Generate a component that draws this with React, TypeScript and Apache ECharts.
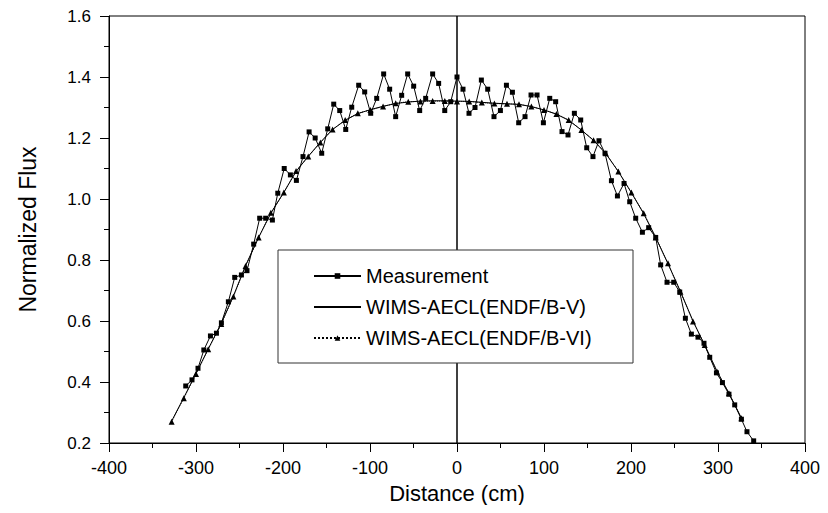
import React, { useEffect, useRef } from "react";
import * as echarts from "echarts";

// Measurement (distance in cm, normalized flux)
const measX = [
  -311.8, -304.6, -297.7, -291.0, -283.4, -276.5, -270.8, -262.8, -255.5, -247.8,
  -241.4, -233.7, -226.8, -219.9, -212.2, -206.0, -198.6, -191.5, -184.6, -177.0,
  -170.0, -163.0, -155.5, -148.6, -141.7, -134.8, -127.9, -121.0, -113.0, -106.1,
  -99.2, -92.3, -84.3, -77.4, -70.5, -63.6, -56.7, -49.8, -42.9, -36.0,
  -28.0, -21.1, -14.1, -7.2, 0.0, 6.9, 13.8, 20.7, 28.0, 35.3,
  42.5, 49.9, 56.8, 63.7, 70.9, 78.2, 85.1, 92.0, 99.3, 106.6,
  113.4, 120.7, 127.6, 134.9, 142.2, 149.1, 156.3, 163.2, 170.1, 177.5,
  184.4, 192.0, 198.5, 205.4, 213.1, 220.3, 228.4, 234.1, 241.4, 249.1,
  256.0, 262.5, 269.4, 277.0, 283.9, 290.5, 298.2, 305.1, 312.6, 319.2,
  326.9, 333.3, 341.0,
];
const measY = [
  0.387, 0.407, 0.445, 0.505, 0.551, 0.56, 0.594, 0.663, 0.743, 0.751,
  0.765, 0.852, 0.937, 0.937, 0.931, 1.019, 1.1, 1.079, 1.061, 1.139,
  1.22, 1.2, 1.15, 1.23, 1.311, 1.29, 1.228, 1.301, 1.373, 1.351,
  1.281, 1.33, 1.41, 1.36, 1.27, 1.34, 1.41, 1.37, 1.29, 1.33,
  1.41, 1.379, 1.29, 1.319, 1.4, 1.36, 1.281, 1.3, 1.39, 1.36,
  1.27, 1.29, 1.373, 1.35, 1.25, 1.27, 1.341, 1.341, 1.25, 1.33,
  1.319, 1.221, 1.21, 1.281, 1.259, 1.168, 1.139, 1.191, 1.15, 1.06,
  1.01, 1.051, 0.991, 0.937, 0.891, 0.906, 0.874, 0.784, 0.727, 0.727,
  0.695, 0.609, 0.557, 0.547, 0.527, 0.481, 0.43, 0.398, 0.36, 0.325,
  0.278, 0.237, 0.207,
];

// Calculation positions (cm)
const calcX = [
  -328.0, -314.0, -300.0, -286.0, -271.0, -257.0, -243.0, -228.0, -214.0, -199.0,
  -185.0, -171.0, -157.0, -143.0, -128.5, -114.0, -99.5, -85.0, -70.5, -56.0,
  -42.0, -28.0, -14.0, 0.0, 14.0, 28.5, 43.0, 57.5, 71.3, 85.5,
  100.0, 114.3, 128.4, 143.0, 157.0, 171.0, 185.5, 200.4, 214.6, 228.4,
  242.5, 256.8, 271.3, 284.7, 298.9, 312.6, 326.9,
];
const endfBV = [
  0.272, 0.349, 0.428, 0.508, 0.592, 0.682, 0.782, 0.874, 0.953, 1.022,
  1.09, 1.14, 1.186, 1.228, 1.258, 1.28, 1.293, 1.304, 1.313, 1.318,
  1.321, 1.322, 1.322, 1.321, 1.32, 1.317, 1.314, 1.312, 1.31, 1.303,
  1.292, 1.278, 1.258, 1.226, 1.192, 1.149, 1.09, 1.021, 0.952, 0.874,
  0.788, 0.697, 0.6, 0.521, 0.435, 0.363, 0.282,
];
const endfBVI = [
  0.27, 0.347, 0.426, 0.507, 0.59, 0.68, 0.78, 0.874, 0.955, 1.021,
  1.092, 1.139, 1.185, 1.228, 1.259, 1.281, 1.292, 1.303, 1.314, 1.319,
  1.32, 1.321, 1.321, 1.32, 1.32, 1.316, 1.313, 1.312, 1.311, 1.303,
  1.292, 1.279, 1.259, 1.226, 1.193, 1.15, 1.09, 1.021, 0.953, 0.874,
  0.789, 0.696, 0.598, 0.521, 0.434, 0.363, 0.281,
];

const seriesNames = ["Measurement", "WIMS-AECL(ENDF/B-V)", "WIMS-AECL(ENDF/B-VI)"];
const xTitle = "Distance (cm)";
const yTitle = "Normalized Flux";

const FONT = "'Liberation Sans', Arial, Helvetica, sans-serif";

const zip = (xs: number[], ys: number[]) => xs.map((x, i) => [x, ys[i]]);

export default function App() {
  const ref = useRef<HTMLDivElement>(null);
  useEffect(() => {
    if (!ref.current) return;
    const chart = echarts.init(ref.current, undefined, { renderer: "svg" });
    chart.setOption({
      animation: false,
      backgroundColor: "#fff",
      textStyle: { fontFamily: FONT, color: "#000" },
      grid: {
        left: 109,
        right: 23,
        top: 16,
        bottom: 70,
        show: true,
        borderColor: "#000",
        borderWidth: 1,
        backgroundColor: "transparent",
      },
      xAxis: {
        type: "value",
        min: -400,
        max: 400,
        interval: 100,
        name: xTitle,
        nameLocation: "middle",
        nameGap: 39,
        nameTextStyle: { fontSize: 22, color: "#000", fontFamily: FONT },
        axisLine: { show: true, onZero: false, lineStyle: { color: "#000", width: 1 } },
        axisTick: { show: true, length: 9, lineStyle: { color: "#000", width: 1 } },
        minorTick: { show: true, splitNumber: 2, length: 5, lineStyle: { color: "#000", width: 1 } },
        axisLabel: { fontSize: 18, color: "#000", margin: 16, fontFamily: FONT },
        splitLine: { show: false },
      },
      yAxis: {
        type: "value",
        min: 0.2,
        max: 1.6,
        interval: 0.2,
        name: yTitle,
        nameLocation: "middle",
        nameGap: 70,
        nameTextStyle: { fontSize: 23, color: "#000", fontFamily: FONT },
        axisLine: { show: true, onZero: false, lineStyle: { color: "#000", width: 1 } },
        axisTick: { show: true, length: 9, lineStyle: { color: "#000", width: 1 } },
        minorTick: { show: true, splitNumber: 2, length: 5, lineStyle: { color: "#000", width: 1 } },
        axisLabel: {
          fontSize: 17,
          color: "#000",
          margin: 18,
          fontFamily: FONT,
          formatter: (v: number) => v.toFixed(1),
        },
        splitLine: { show: false },
      },
      graphic: [
        {
          type: "rect",
          z: 50,
          shape: { x: 278, y: 250, width: 355, height: 113 },
          style: { fill: "#fff", stroke: "#333", lineWidth: 1 },
        },
      ],
      legend: {
        z: 60,
        orient: "vertical",
        left: 313,
        top: 266,
        padding: 0,
        itemWidth: 47,
        itemHeight: 7,
        itemGap: 11,
        textStyle: { fontSize: 20, color: "#000", fontFamily: FONT },
        data: [
          { name: seriesNames[0] },
          { name: seriesNames[1], itemStyle: { opacity: 0 } },
          { name: seriesNames[2] },
        ],
      },
      series: [
        {
          name: seriesNames[0],
          type: "line",
          data: zip(measX, measY),
          symbol: "rect",
          symbolSize: 5,
          itemStyle: { color: "#000" },
          lineStyle: { color: "#000", width: 1 },
          z: 3,
          markLine: {
            silent: true,
            symbol: ["none", "none"],
            label: { show: false },
            lineStyle: { color: "#000", width: 1.5, type: "solid" },
            data: [{ xAxis: 0 }],
          },
        },
        {
          name: seriesNames[1],
          type: "line",
          data: zip(calcX, endfBV),
          symbol: "none",
          itemStyle: { color: "#000" },
          lineStyle: { color: "#000", width: 1 },
          z: 2,
        },
        {
          name: seriesNames[2],
          type: "line",
          data: zip(calcX, endfBVI),
          symbol: "triangle",
          symbolSize: 6,
          itemStyle: { color: "#000" },
          lineStyle: { color: "#000", width: 1, type: "dotted" },
          z: 2,
        },
      ],
    });
    return () => chart.dispose();
  }, []);
  return <div ref={ref} style={{ width: 828, height: 513, margin: -8 }} />;
}
